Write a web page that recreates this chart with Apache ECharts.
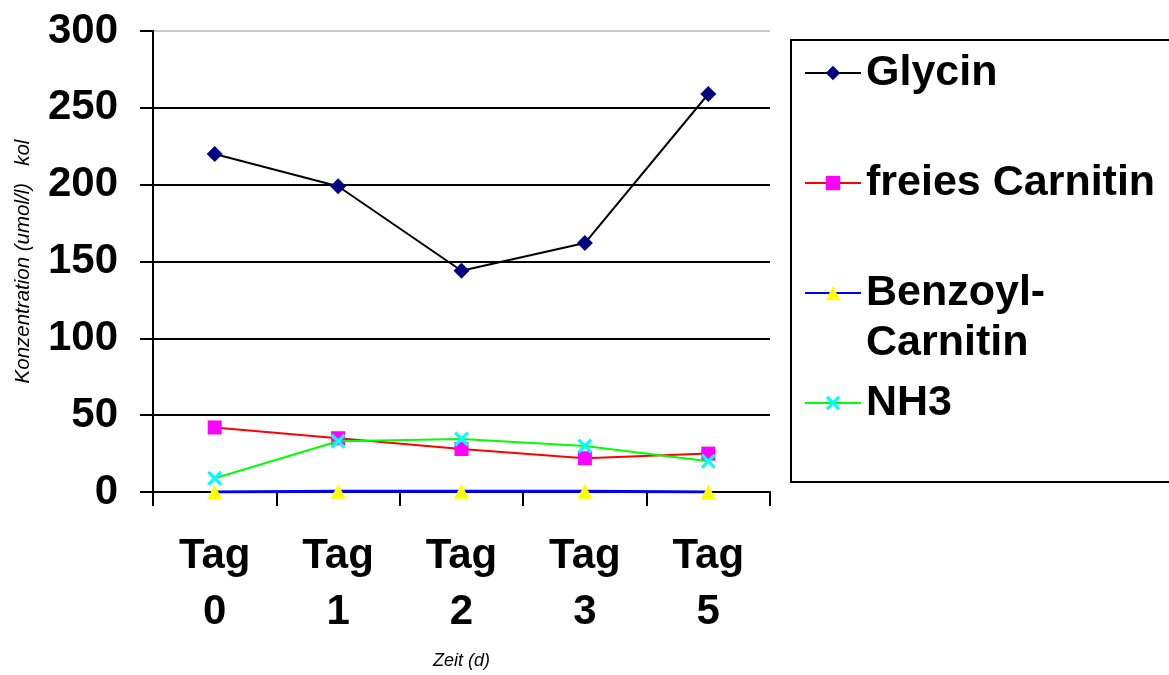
<!DOCTYPE html>
<html>
<head>
<meta charset="utf-8">
<script src="https://cdn.jsdelivr.net/npm/echarts@6/dist/echarts.min.js"></script>
<style>
html, body { margin: 0; padding: 0; background: #fff; }
#chart { width: 1169px; height: 675px; }
</style>
</head>
<body>
<div id="chart"></div>
<script>
// Werte
var tage = ['Tag\n0', 'Tag\n1', 'Tag\n2', 'Tag\n3', 'Tag\n5'];
var glycin = [220, 199, 144, 162, 259];
var freiesCarnitin = [42, 35, 28, 22, 25];
var benzoylCarnitin = [0, 0.5, 0.5, 0.5, 0];
var nh3 = [9, 33, 34.5, 30, 20];
var yTicks = [0, 50, 100, 150, 200, 250, 300];

var FONT = '"Liberation Sans", Arial, sans-serif';
// dickes X als gefuellte Flaeche
var crossPath = 'path://M0,1.5L1.5,0L5,3.5L8.5,0L10,1.5L6.5,5L10,8.5L8.5,10L5,6.5L1.5,10L0,8.5L3.5,5Z';

var myChart = echarts.init(document.getElementById('chart'));

function legendItem(name, top, fmt) {
    return {
        data: [name],
        left: 804,
        top: top,
        padding: 0,
        itemWidth: 56,
        itemHeight: 18,
        itemGap: 0,
        selectedMode: false,
        formatter: fmt || '{name}',
        textStyle: {
            fontFamily: FONT,
            fontSize: 43,
            fontWeight: 'bold',
            color: '#000',
            lineHeight: 50
        }
    };
}

var option = {
    animation: false,
    backgroundColor: '#fff',
    grid: {
        left: 153,
        right: 399,
        top: 31,
        bottom: 183,
        containLabel: false,
        outerBoundsMode: 'none'
    },
    legend: [
        legendItem('Glycin', 48),
        legendItem('freies Carnitin', 158),
        legendItem('Benzoyl-Carnitin', 218, function () {
            return ' \nBenzoyl-\nCarnitin';
        }),
        legendItem('NH3', 378)
    ],
    graphic: [{
        type: 'rect',
        shape: { x: 791, y: 40, width: 400, height: 442 },
        style: { fill: 'none', stroke: '#000', lineWidth: 2 },
        z: 0
    }],
    xAxis: {
        type: 'category',
        data: tage,
        boundaryGap: true,
        name: 'Zeit (d)',
        nameLocation: 'middle',
        nameGap: 160,
        nameTextStyle: {
            fontFamily: FONT,
            fontSize: 18,
            fontStyle: 'italic',
            color: '#000'
        },
        axisLine: { lineStyle: { color: '#000', width: 2 } },
        axisTick: {
            show: true,
            alignWithLabel: false,
            length: 14,
            lineStyle: { color: '#000', width: 2 }
        },
        axisLabel: {
            margin: 36,
            fontFamily: FONT,
            fontSize: 42,
            fontWeight: 'bold',
            color: '#000',
            lineHeight: 56
        },
        splitLine: { show: false }
    },
    yAxis: {
        type: 'value',
        min: 0,
        max: 300,
        interval: 50,
        name: 'Konzentration (umol/l)   kol',
        nameLocation: 'middle',
        nameGap: 120,
        nameTextStyle: {
            fontFamily: FONT,
            fontSize: 20.5,
            fontStyle: 'italic',
            color: '#000'
        },
        axisLine: { show: true, lineStyle: { color: '#000', width: 2 } },
        axisTick: {
            show: true,
            length: 13,
            lineStyle: { color: '#000', width: 2 }
        },
        axisLabel: {
            margin: 35,
            fontFamily: FONT,
            fontSize: 42,
            fontWeight: 'bold',
            color: '#000',
            formatter: function (v) {
                return yTicks.indexOf(v) >= 0 ? String(v) : '';
            }
        },
        splitLine: {
            show: true,
            lineStyle: {
                width: 2,
                // oberste Gitterlinie (300) ist im Original hellgrau
                color: ['#000', '#000', '#000', '#000', '#000', '#000', '#c8c8c8']
            }
        }
    },
    series: [{
        name: 'Glycin',
        type: 'line',
        data: glycin,
        symbol: 'diamond',
        symbolSize: 16,
        itemStyle: { color: '#000080' },
        lineStyle: { color: '#000', width: 2 },
        z: 3
    }, {
        name: 'freies Carnitin',
        type: 'line',
        data: freiesCarnitin,
        symbol: 'rect',
        symbolSize: 14,
        itemStyle: { color: '#ff00ff' },
        lineStyle: { color: '#ff0000', width: 2 },
        z: 3
    }, {
        name: 'Benzoyl-Carnitin',
        type: 'line',
        data: benzoylCarnitin,
        symbol: 'triangle',
        symbolSize: 15,
        itemStyle: { color: '#ffff00' },
        lineStyle: { color: '#0000ff', width: 3 },
        z: 4
    }, {
        name: 'NH3',
        type: 'line',
        data: nh3,
        symbol: crossPath,
        symbolSize: 15,
        itemStyle: { color: '#00ffff' },
        lineStyle: { color: '#00ff00', width: 2 },
        z: 4
    }]
};

myChart.setOption(option);

window.addEventListener('resize', function () {
    myChart.resize();
});
</script>
</body>
</html>
